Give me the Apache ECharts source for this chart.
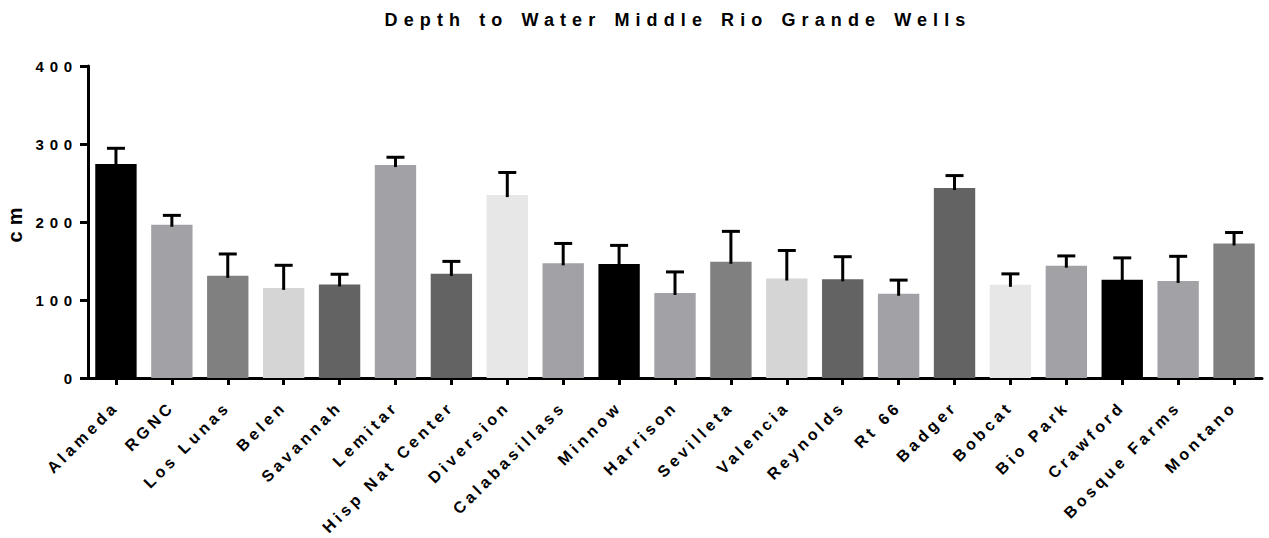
<!DOCTYPE html>
<html>
<head>
<meta charset="utf-8">
<title>Depth to Water Middle Rio Grande Wells</title>
<script src="https://cdn.jsdelivr.net/npm/echarts@6/dist/echarts.min.js"></script>
<style>
  html, body { margin: 0; padding: 0; background: #ffffff; }
  #chart { width: 1269px; height: 538px; }
  /* Tracked-out lettering, tuned per text size */
  #chart svg text { letter-spacing: 4px; }
  #chart svg text[style*="15px"] { letter-spacing: 5.8px; }
  #chart svg text[style*="16px"] { letter-spacing: 3.9px; }
  #chart svg text[style*="18px"] { letter-spacing: 6.1px; word-spacing: 2px; }
  #chart svg text[style*="20px"] { letter-spacing: 6px; }
</style>
</head>
<body>
<div id="chart"></div>
<script>
// Well sites along the Middle Rio Grande
const categories = [
  'Alameda', 'RGNC', 'Los Lunas', 'Belen', 'Savannah', 'Lemitar',
  'Hisp Nat Center', 'Diversion', 'Calabasillass', 'Minnow', 'Harrison',
  'Sevilleta', 'Valencia', 'Reynolds', 'Rt 66', 'Badger', 'Bobcat',
  'Bio Park', 'Crawford', 'Bosque Farms', 'Montano'
];

// Mean depth to water (cm)
const meanDepth = [
  274.5, 196.5, 131, 115.5, 120, 273, 133.5, 234.5, 147, 146, 109,
  149, 127.5, 126.5, 108, 243.5, 119.5, 144, 126, 124.5, 172.5
];

// Upper error (cm) above each mean
const errorUp = [
  20, 12, 28, 29, 13, 10, 16, 29, 25.5, 24, 27,
  39, 36, 29, 17.5, 16, 14, 12.5, 28, 31.5, 14
];

// Bar fill per site
const barColors = [
  '#000000', '#a2a1a6', '#808080', '#d5d5d5', '#636363', '#a2a1a6',
  '#636363', '#e7e7e7', '#a2a1a6', '#000000', '#a2a1a6', '#808080',
  '#d5d5d5', '#636363', '#a2a1a6', '#636363', '#e7e7e7', '#a2a1a6',
  '#000000', '#a2a1a6', '#808080'
];

// Value axis ticks
const yMin = 0, yMax = 400, yStep = 100;

const FONT = 'Arial, "Liberation Sans", sans-serif';

const chart = echarts.init(document.getElementById('chart'), null, { renderer: 'svg' });

const barData = meanDepth.map((v, i) => ({
  value: v,
  itemStyle: { color: barColors[i] }
}));

const errData = meanDepth.map((v, i) => [i, v, v + errorUp[i]]);

chart.setOption({
  animation: false,
  backgroundColor: '#ffffff',
  title: {
    text: 'Depth to Water Middle Rio Grande Wells',
    left: 678,
    top: 11,
    padding: 0,
    textAlign: 'center',
    textStyle: { fontFamily: FONT, fontWeight: 'bold', fontSize: 18, color: '#000' }
  },
  grid: {
    left: 88, right: 7, top: 66, bottom: 160,
    containLabel: false,
    outerBoundsMode: 'none'
  },
  xAxis: {
    type: 'category',
    data: categories,
    boundaryGap: true,
    axisLine: { show: true, lineStyle: { color: '#000', width: 3 } },
    axisTick: { show: true, alignWithLabel: true, length: 7, lineStyle: { color: '#000', width: 3 } },
    axisLabel: {
      interval: 0,
      rotate: 45,
      margin: 26,
      fontFamily: FONT,
      fontWeight: 'bold',
      fontSize: 16,
      color: '#000'
    },
    splitLine: { show: false }
  },
  yAxis: {
    type: 'value',
    min: yMin,
    max: yMax,
    interval: yStep,
    name: 'cm',
    nameLocation: 'middle',
    nameRotate: 90,
    nameGap: 63,
    nameTextStyle: { fontFamily: FONT, fontWeight: 'bold', fontSize: 20, color: '#000' },
    axisLine: { show: true, lineStyle: { color: '#000', width: 3 } },
    axisTick: { show: true, length: 8, lineStyle: { color: '#000', width: 3 } },
    axisLabel: {
      margin: 10,
      fontFamily: FONT,
      fontWeight: 'bold',
      fontSize: 15,
      color: '#000'
    },
    splitLine: { show: false }
  },
  series: [
    {
      type: 'bar',
      data: barData,
      barWidth: '74%',
      z: 2
    },
    {
      type: 'custom',
      z: 3,
      data: errData,
      encode: { x: 0, y: [1, 2] },
      renderItem: function (params, api) {
        const x = api.value(0);
        const base = api.coord([x, api.value(1)]);
        const top = api.coord([x, api.value(2)]);
        const capHalf = 9;
        return {
          type: 'group',
          children: [
            {
              type: 'line',
              shape: { x1: base[0], y1: base[1] + 2, x2: top[0], y2: top[1] },
              style: { stroke: '#000', lineWidth: 3 }
            },
            {
              type: 'line',
              shape: { x1: top[0] - capHalf, y1: top[1], x2: top[0] + capHalf, y2: top[1] },
              style: { stroke: '#000', lineWidth: 3 }
            }
          ]
        };
      }
    }
  ]
});
</script>
</body>
</html>
